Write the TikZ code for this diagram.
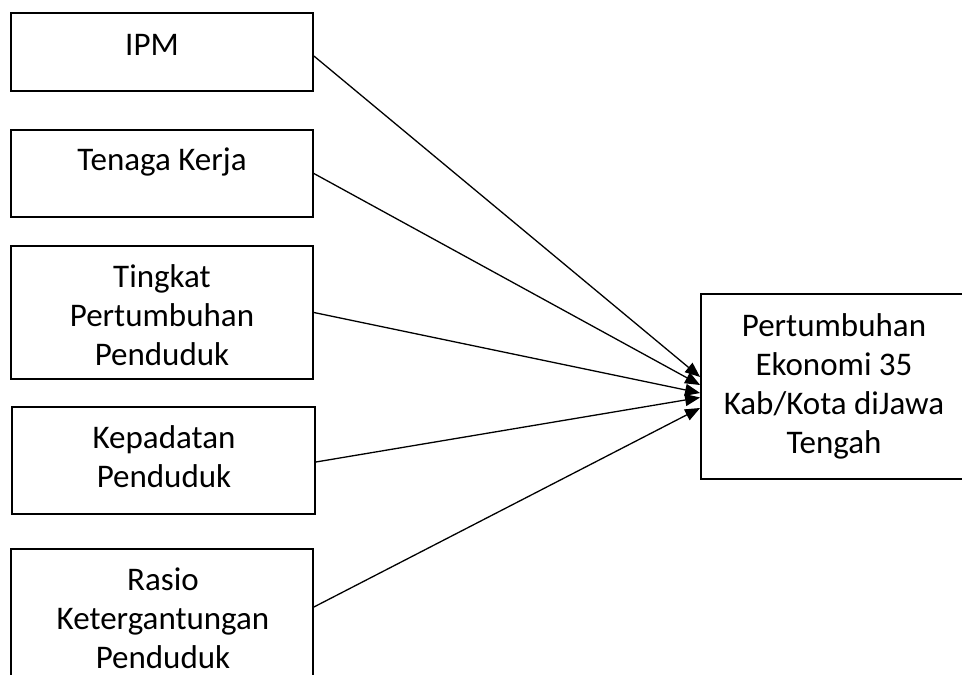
\documentclass[tikz,border=0pt]{standalone}
\usepackage{fontspec}
\setmainfont{Carlito}
\usetikzlibrary{arrows.meta,calc}
\begin{document}
\begin{tikzpicture}[x=1pt,y=-1pt,
  box/.style={draw=black,line width=1.8pt,inner sep=0pt,fill=none},
  lbl/.style={font=\fontsize{33}{39}\selectfont,align=center,inner sep=0pt,anchor=base},
  conn/.style={line width=1.3pt,-{Triangle[length=15pt,width=12pt]}}]
\useasboundingbox (0,0) rectangle (962,675);
\node[box,minimum width=302pt,minimum height=78pt] (ipm) at (162,52) {};
\node[box,minimum width=302pt,minimum height=87pt] (tk) at (162,173.5) {};
\node[box,minimum width=302pt,minimum height=133pt] (tpp) at (162,312.5) {};
\node[box,minimum width=303pt,minimum height=107pt] (kp) at (163.5,460.5) {};
\node[box,minimum width=302pt,minimum height=141pt] (rkp) at (162,619.5) {};
\node[box,minimum width=266pt,minimum height=185pt] (pe) at (834,386.5) {};
\node[lbl] (t1) at (152,55) {IPM};
\node[lbl] (t2) at (162,170) {Tenaga Kerja};
\node[lbl] (t3) at (162,365) {Tingkat\\Pertumbuhan\\Penduduk};
\node[lbl] (t4) at (164,487) {Kepadatan\\Penduduk};
\node[lbl] (t5) at (163,668) {Rasio\\Ketergantungan\\Penduduk};
\node[lbl] (t6) at (834,453) {Pertumbuhan\\Ekonomi 35\\Kab/Kota diJawa\\Tengah};
\draw[conn] ($(ipm.east)+(0,4)$) -- ($(pe.west)+(0,-9.5)$);
\draw[conn] (tk.east) -- ($(pe.west)+(0,-1.5)$);
\draw[conn] (tpp.east) -- ($(pe.west)+(0,6.5)$);
\draw[conn] ($(kp.east)+(0,1.5)$) -- ($(pe.west)+(0,11)$);
\draw[conn] ($(rkp.east)+(0,-12.5)$) -- ($(pe.west)+(0,21.5)$);
\end{tikzpicture}
\end{document}
